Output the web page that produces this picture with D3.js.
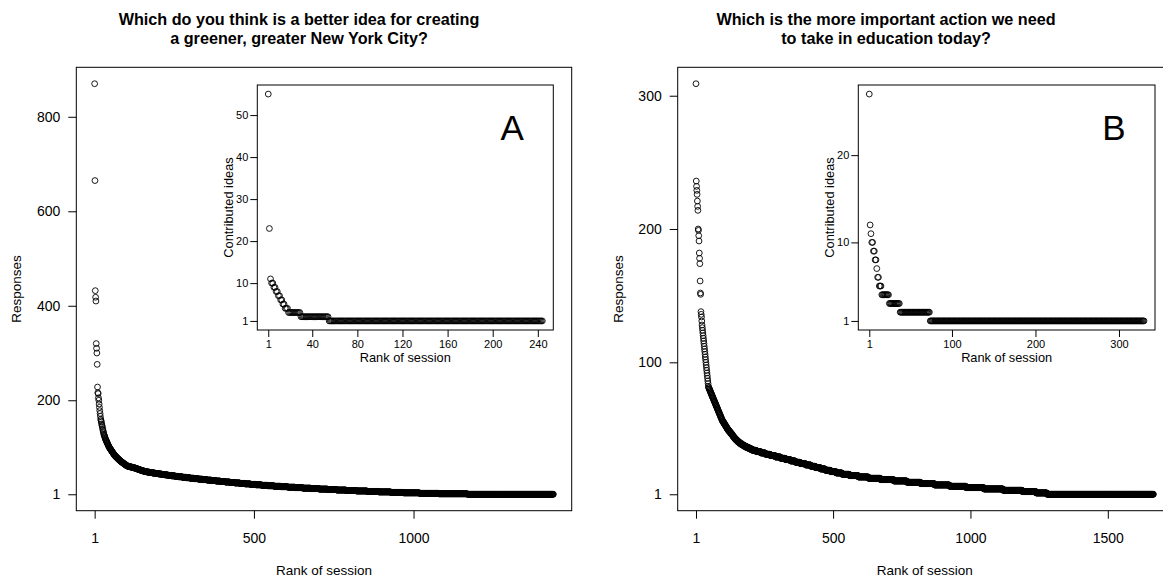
<!DOCTYPE html>
<html>
<head>
<meta charset="utf-8">
<script src="https://cdn.jsdelivr.net/npm/d3@7"></script>
<style>
body{margin:0;background:#fff}
svg{display:block;font-family:"Liberation Sans",Arial,Helvetica,sans-serif}
</style>
</head>
<body>
<svg id="chart" width="1163" height="577"></svg>
<script>
// ---- data ----
var titleA = ["Which do you think is a better idea for creating", "a greener, greater New York City?"]
var titleB = ["Which is the more important action we need", "to take in education today?"]
var xTitle = "Rank of session"
var yTitleMain = "Responses"
var yTitleInset = "Contributed ideas"

// responses per session, sorted; top sessions one by one, then value levels with their session counts
var topA = [870, 665, 432, 418, 410, 320, 310, 300, 276, 228, 216, 214, 205, 200, 192, 185, 178, 172, 166, 160,
  157, 154, 150, 147, 144, 140, 137, 134, 131, 128, 126, 124, 122, 120, 118, 116, 115, 113, 112, 110,
  109, 107, 106, 104, 103, 102, 100, 99, 98, 97, 96, 95, 94, 93, 92, 91, 90, 89, 88, 87]
var tailLevelsA = [86, 85, 84, 83, 82, 81, 80, 79, 78, 77, 76, 75, 74, 73, 72, 71, 70, 69, 68, 67, 66, 65, 64, 63, 62,
  61, 60, 59, 58, 57, 56, 55, 54, 53, 52, 51, 50, 49, 48, 47, 46, 45, 44, 43, 42, 41, 40, 39, 38,
  37, 36, 35, 34, 33, 32, 31, 30, 29, 28, 27, 26, 25, 24, 23, 22, 21, 20, 19, 18, 17, 16,
  15, 14, 13, 12, 11, 10, 9, 8, 7, 6, 5, 4, 3, 2, 1]
var tailCountsA = [1, 1, 1, 2, 1, 1, 2, 1, 2, 1, 2, 1, 2, 2, 1, 2, 2, 2, 2, 2, 2, 2, 2, 2, 2,
  4, 5, 6, 6, 5, 4, 4, 4, 4, 4, 5, 5, 7, 8, 9, 9, 10, 10, 10, 10, 11, 11, 11, 12,
  12, 12, 13, 13, 13, 14, 14, 14, 14, 15, 15, 15, 16, 16, 17, 17, 18, 19, 20, 21, 22, 23,
  24, 25, 26, 27, 28, 30, 32, 34, 36, 38, 40, 50, 60, 90, 270]

var topB = [309, 236, 232, 229, 226, 221, 217, 214, 200, 199, 195, 191, 182, 178, 174, 161, 152, 151, 138, 136,
  134, 131, 128, 126, 124, 122, 120, 118, 116, 114, 112, 110, 108, 106, 104, 102, 100, 98, 96, 94,
  92, 90, 88, 86, 84, 82]
var tailLevelsB = [81, 80, 79, 78, 77, 76, 75, 74, 73, 72, 71, 70, 69, 68, 67, 66, 65, 64, 63, 62, 61, 60, 59, 58, 57,
  56, 55, 54, 53, 52, 51, 50, 49, 48, 47, 46, 45, 44, 43, 42, 41, 40, 39, 38, 37, 36, 35,
  34, 33, 32, 31, 30, 29, 28, 27, 26, 25, 24, 23, 22, 21, 20, 19, 18, 17, 16, 15, 14,
  13, 12, 11, 10, 9, 8, 7, 6, 5, 4, 3, 2, 1]
var tailCountsB = [2, 2, 2, 2, 2, 2, 2, 2, 2, 2, 2, 2, 2, 2, 2, 2, 2, 2, 2, 2, 2, 2, 2, 2, 2,
  3, 3, 3, 3, 3, 3, 3, 4, 4, 4, 4, 3, 4, 4, 5, 5, 6, 7, 8, 9, 10, 11,
  15, 16, 17, 18, 18, 19, 18, 18, 18, 18, 19, 19, 17, 18, 18, 19, 20, 22, 27, 32, 37,
  44, 48, 48, 50, 50, 55, 60, 65, 70, 70, 50, 40, 388]

// contributed ideas per session (inset)
var ideaLevelsA = [55, 23, 11, 10, 9, 8, 7, 6, 5, 4, 3, 2, 1]
var ideaCountsA = [1, 1, 1, 2, 2, 2, 2, 2, 2, 3, 11, 25, 190]
var ideaLevelsB = [27, 12, 11, 10, 9, 8, 7, 6, 5, 4, 3, 2, 1]
var ideaCountsB = [1, 1, 1, 2, 2, 2, 1, 2, 3, 9, 13, 36, 257]

// tick labels
var xTicksMainA = [1, 500, 1000]
var yTicksMainA = [1, 200, 400, 600, 800]
var xTicksMainB = [1, 500, 1000, 1500]
var yTicksMainB = [1, 100, 200, 300]
var xTicksInsetA = [1, 40, 80, 120, 160, 200, 240]
var yTicksInsetA = [1, 10, 20, 30, 40, 50]
var xTicksInsetB = [1, 100, 200, 300]
var yTicksInsetB = [1, 10, 20]

// ---- helpers ----
var toPoints = function(top, levels, counts){
  var pts = []
  var rank = 1
  top.forEach(function(v){ pts.push({rank: rank, value: v}); rank++ })
  levels.forEach(function(v, i){
    for (var k = 0; k < counts[i]; k++){ pts.push({rank: rank, value: v}); rank++ }
  })
  return pts
}

// R style 4% padding of the data range
var padded = function(lo, hi){
  var p = (hi - lo) * 0.04
  return [lo - p, hi + p]
}

var svg = d3.select("#chart")

var drawPanel = function(cfg){
  var pts = cfg.points
  var xScale = d3.scaleLinear()
    .domain(padded(1, pts.length))
    .range([cfg.box.x0, cfg.box.x1])
  var yScale = d3.scaleLinear()
    .domain(padded(d3.min(pts, function(d){ return d.value }), d3.max(pts, function(d){ return d.value })))
    .range([cfg.box.y1, cfg.box.y0])

  var g = svg.append("g")

  if (cfg.inset){
    g.append("rect")
      .attr("x", cfg.box.x0).attr("y", cfg.box.y0)
      .attr("width", cfg.box.x1 - cfg.box.x0)
      .attr("height", cfg.box.y1 - cfg.box.y0)
      .attr("fill", "#fff")
  }

  g.append("g").selectAll("circle")
    .data(pts)
    .enter()
    .append("circle")
    .attr("cx", function(d){ return xScale(d.rank) })
    .attr("cy", function(d){ return yScale(d.value) })
    .attr("r", 2.9)
    .attr("fill", "none")
    .attr("stroke", "#000")
    .attr("stroke-width", 0.9)

  var xAxis = d3.axisBottom(xScale)
    .tickValues(cfg.xTicks)
    .tickSize(cfg.tick)
    .tickPadding(cfg.xPad)
    .tickFormat(d3.format("d"))
  var gx = g.append("g")
    .attr("transform", "translate(0," + cfg.box.y1 + ")")
    .call(xAxis)
  gx.select(".domain").remove()
  gx.selectAll("line").attr("stroke", "#000")
  gx.selectAll("text").attr("font-size", cfg.tickFont).attr("fill", "#000")

  var yAxis = d3.axisLeft(yScale)
    .tickValues(cfg.yTicks)
    .tickSize(cfg.tick)
    .tickPadding(cfg.yPad)
    .tickFormat(d3.format("d"))
  var gy = g.append("g")
    .attr("transform", "translate(" + cfg.box.x0 + ",0)")
    .call(yAxis)
  gy.select(".domain").remove()
  gy.selectAll("line").attr("stroke", "#000")
  gy.selectAll("text").attr("font-size", cfg.tickFont).attr("fill", "#000")

  g.append("rect")
    .attr("x", cfg.box.x0).attr("y", cfg.box.y0)
    .attr("width", cfg.box.x1 - cfg.box.x0)
    .attr("height", cfg.box.y1 - cfg.box.y0)
    .attr("fill", "none")
    .attr("stroke", "#000")
    .attr("stroke-width", 1)

  g.append("text")
    .attr("x", (cfg.box.x0 + cfg.box.x1) / 2)
    .attr("y", cfg.box.y1 + cfg.xTitleOff)
    .attr("text-anchor", "middle")
    .attr("font-size", cfg.titleFont)
    .text(xTitle)

  g.append("text")
    .attr("transform", "translate(" + (cfg.box.x0 - cfg.yTitleOff) + "," + ((cfg.box.y0 + cfg.box.y1) / 2) + ") rotate(-90)")
    .attr("text-anchor", "middle")
    .attr("font-size", cfg.titleFont)
    .text(cfg.yTitle)

  if (cfg.title){
    cfg.title.forEach(function(line, i){
      svg.append("text")
        .attr("x", cfg.titleX)
        .attr("y", 25 + i * 19)
        .attr("text-anchor", "middle")
        .attr("font-size", 16.2)
        .attr("font-weight", "bold")
        .text(line)
    })
  }
  if (cfg.letter){
    g.append("text")
      .attr("x", cfg.box.x1 - 41)
      .attr("y", cfg.box.y0 + 55)
      .attr("text-anchor", "middle")
      .attr("font-size", 35)
      .text(cfg.letter)
  }
}

var mainStyle = {tick: 8, xPad: 14, yPad: 8, tickFont: 14, titleFont: 13.5, xTitleOff: 64, yTitleOff: 55, yTitle: yTitleMain}
var insetStyle = {tick: 7, xPad: 3, yPad: 2, tickFont: 11, titleFont: 12.8, xTitleOff: 32, yTitleOff: 24, yTitle: yTitleInset, inset: true}

var panel = function(base, extra){ return Object.assign({}, base, extra) }

drawPanel(panel(mainStyle, {
  box: {x0: 76.3, x1: 571.7, y0: 67.3, y1: 510.7},
  points: toPoints(topA, tailLevelsA, tailCountsA),
  xTicks: xTicksMainA, yTicks: yTicksMainA, title: titleA, titleX: 299
}))
drawPanel(panel(insetStyle, {
  box: {x0: 257.3, x1: 553.3, y0: 85, y1: 330},
  points: toPoints([], ideaLevelsA, ideaCountsA),
  xTicks: xTicksInsetA, yTicks: yTicksInsetA, letter: "A"
}))
drawPanel(panel(mainStyle, {
  box: {x0: 677.7, x1: 1171.7, y0: 67.3, y1: 510.7},
  points: toPoints(topB, tailLevelsB, tailCountsB),
  xTicks: xTicksMainB, yTicks: yTicksMainB, title: titleB, titleX: 886
}))
drawPanel(panel(insetStyle, {
  box: {x0: 858.3, x1: 1155, y0: 85, y1: 330},
  points: toPoints([], ideaLevelsB, ideaCountsB),
  xTicks: xTicksInsetB, yTicks: yTicksInsetB, letter: "B"
}))
</script>
</body>
</html>
